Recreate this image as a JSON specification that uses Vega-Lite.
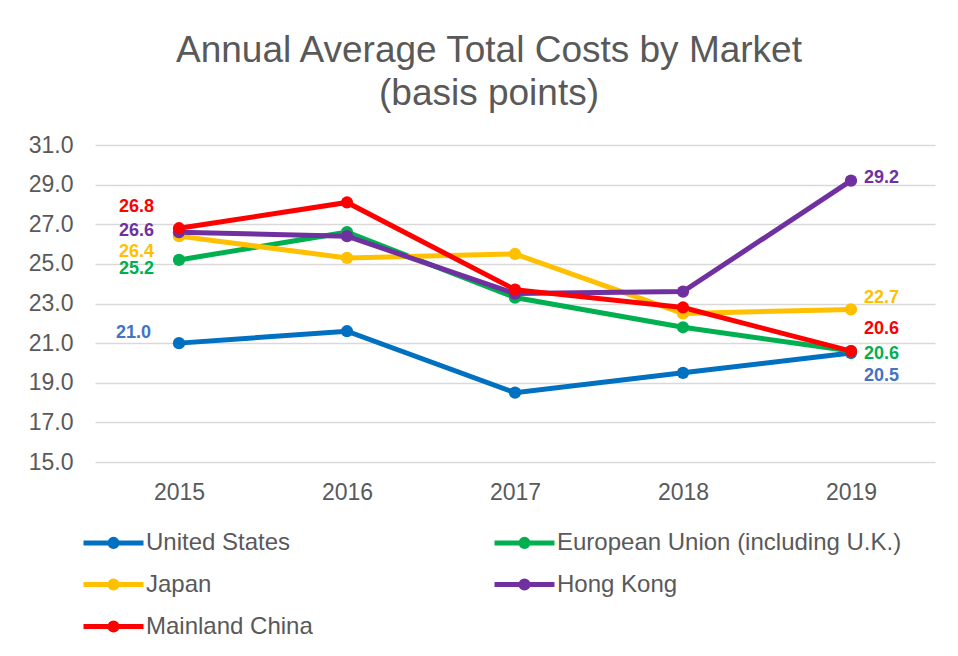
{
  "$schema": "https://vega.github.io/schema/vega-lite/v6.json",
  "width": 840,
  "height": 317,
  "autosize": {"type": "none"},
  "padding": {"left": 95, "top": 145, "right": 23, "bottom": 194},
  "background": "white",
  "config": {
    "view": {"stroke": null},
    "font": "Liberation Sans",
    "axis": {"labelFont": "Liberation Sans", "labelFontSize": 23, "labelColor": "#595959", "domain": false, "ticks": false, "title": null, "gridColor": "#d9d9d9", "gridWidth": 1.5}
  },
  "title": {
    "text": ["Annual Average Total Costs by Market", "(basis points)"],
    "font": "Liberation Sans",
    "fontSize": 37,
    "fontWeight": "normal",
    "color": "#595959",
    "anchor": "middle",
    "dx": -26,
    "offset": 21,
    "lineHeight": 43
  },
  "data": {
    "values": [
      {"market": "United States", "year": "2015", "cost": 21.0},
      {"market": "United States", "year": "2016", "cost": 21.6},
      {"market": "United States", "year": "2017", "cost": 18.5},
      {"market": "United States", "year": "2018", "cost": 19.5},
      {"market": "United States", "year": "2019", "cost": 20.5},
      {"market": "European Union (including U.K.)", "year": "2015", "cost": 25.2},
      {"market": "European Union (including U.K.)", "year": "2016", "cost": 26.6},
      {"market": "European Union (including U.K.)", "year": "2017", "cost": 23.3},
      {"market": "European Union (including U.K.)", "year": "2018", "cost": 21.8},
      {"market": "European Union (including U.K.)", "year": "2019", "cost": 20.6},
      {"market": "Japan", "year": "2015", "cost": 26.4},
      {"market": "Japan", "year": "2016", "cost": 25.3},
      {"market": "Japan", "year": "2017", "cost": 25.5},
      {"market": "Japan", "year": "2018", "cost": 22.5},
      {"market": "Japan", "year": "2019", "cost": 22.7},
      {"market": "Hong Kong", "year": "2015", "cost": 26.6},
      {"market": "Hong Kong", "year": "2016", "cost": 26.4},
      {"market": "Hong Kong", "year": "2017", "cost": 23.5},
      {"market": "Hong Kong", "year": "2018", "cost": 23.6},
      {"market": "Hong Kong", "year": "2019", "cost": 29.2},
      {"market": "Mainland China", "year": "2015", "cost": 26.8},
      {"market": "Mainland China", "year": "2016", "cost": 28.1},
      {"market": "Mainland China", "year": "2017", "cost": 23.7},
      {"market": "Mainland China", "year": "2018", "cost": 22.8},
      {"market": "Mainland China", "year": "2019", "cost": 20.6}
    ]
  },
  "encoding": {
    "x": {"field": "year", "type": "ordinal", "scale": {"type": "point", "padding": 0.5}, "axis": {"labelAngle": 0, "labelPadding": 19, "grid": false}},
    "y": {"field": "cost", "type": "quantitative", "scale": {"domain": [15, 31], "nice": false, "zero": false}, "axis": {"values": [15, 17, 19, 21, 23, 25, 27, 29, 31], "format": ".1f", "labelPadding": 22, "grid": true}}
  },
  "layer": [
    {
      "mark": {"type": "line", "strokeWidth": 5, "point": {"filled": true, "size": 150, "opacity": 1}},
      "encoding": {
        "color": {
          "field": "market",
          "type": "nominal",
          "sort": ["United States", "European Union (including U.K.)", "Japan", "Hong Kong", "Mainland China"],
          "scale": {
            "domain": ["United States", "European Union (including U.K.)", "Japan", "Hong Kong", "Mainland China"],
            "range": ["#0070C0", "#00B050", "#FFC000", "#7030A0", "#FF0000"]
          },
          "legend": {
            "orient": "none",
            "legendX": -14,
            "legendY": 380,
            "direction": "horizontal",
            "columns": 2,
            "gridAlign": "all",
            "columnPadding": -7,
            "rowPadding": 10,
            "title": null,
            "labelFont": "Liberation Sans",
            "labelFontSize": 24,
            "labelColor": "#595959",
            "labelOffset": 30,
            "labelLimit": 500,
            "symbolType": "M-1,0L3,0M0.76,0A0.24,0.24,0,1,1,1.24,0A0.24,0.24,0,1,1,0.76,0Z",
            "symbolSize": 900,
            "symbolStrokeWidth": 5,
            "encode": {
              "symbols": {
                "update": {
                  "fill": {"scale": "color", "field": "value"},
                  "stroke": {"scale": "color", "field": "value"},
                  "strokeWidth": {"value": 5},
                  "opacity": {"value": 1}
                }
              }
            }
          }
        }
      }
    },
    {
      "transform": [{"filter": "datum.year == '2015' && datum.market == 'Mainland China'"}],
      "mark": {"type": "text", "align": "right", "dx": -25, "dy": -21, "fontSize": 18, "fontWeight": "bold", "color": "#FF0000"},
      "encoding": {"text": {"field": "cost", "format": ".1f"}}
    },
    {
      "transform": [{"filter": "datum.year == '2015' && datum.market == 'Hong Kong'"}],
      "mark": {"type": "text", "align": "right", "dx": -25, "dy": -1, "fontSize": 18, "fontWeight": "bold", "color": "#7030A0"},
      "encoding": {"text": {"field": "cost", "format": ".1f"}}
    },
    {
      "transform": [{"filter": "datum.year == '2015' && datum.market == 'Japan'"}],
      "mark": {"type": "text", "align": "right", "dx": -25, "dy": 16, "fontSize": 18, "fontWeight": "bold", "color": "#FFC000"},
      "encoding": {"text": {"field": "cost", "format": ".1f"}}
    },
    {
      "transform": [{"filter": "datum.year == '2015' && datum.market == 'European Union (including U.K.)'"}],
      "mark": {"type": "text", "align": "right", "dx": -25, "dy": 9, "fontSize": 18, "fontWeight": "bold", "color": "#00B050"},
      "encoding": {"text": {"field": "cost", "format": ".1f"}}
    },
    {
      "transform": [{"filter": "datum.year == '2015' && datum.market == 'United States'"}],
      "mark": {"type": "text", "align": "right", "dx": -28, "dy": -10, "fontSize": 18, "fontWeight": "bold", "color": "#4472C4"},
      "encoding": {"text": {"field": "cost", "format": ".1f"}}
    },
    {
      "transform": [{"filter": "datum.year == '2019' && datum.market == 'Hong Kong'"}],
      "mark": {"type": "text", "align": "left", "dx": 13, "dy": -3, "fontSize": 18, "fontWeight": "bold", "color": "#7030A0"},
      "encoding": {"text": {"field": "cost", "format": ".1f"}}
    },
    {
      "transform": [{"filter": "datum.year == '2019' && datum.market == 'Japan'"}],
      "mark": {"type": "text", "align": "left", "dx": 13, "dy": -11, "fontSize": 18, "fontWeight": "bold", "color": "#FFC000"},
      "encoding": {"text": {"field": "cost", "format": ".1f"}}
    },
    {
      "transform": [{"filter": "datum.year == '2019' && datum.market == 'Mainland China'"}],
      "mark": {"type": "text", "align": "left", "dx": 13, "dy": -22, "fontSize": 18, "fontWeight": "bold", "color": "#FF0000"},
      "encoding": {"text": {"field": "cost", "format": ".1f"}}
    },
    {
      "transform": [{"filter": "datum.year == '2019' && datum.market == 'European Union (including U.K.)'"}],
      "mark": {"type": "text", "align": "left", "dx": 13, "dy": 3, "fontSize": 18, "fontWeight": "bold", "color": "#00B050"},
      "encoding": {"text": {"field": "cost", "format": ".1f"}}
    },
    {
      "transform": [{"filter": "datum.year == '2019' && datum.market == 'United States'"}],
      "mark": {"type": "text", "align": "left", "dx": 13, "dy": 23, "fontSize": 18, "fontWeight": "bold", "color": "#4472C4"},
      "encoding": {"text": {"field": "cost", "format": ".1f"}}
    }
  ]
}
